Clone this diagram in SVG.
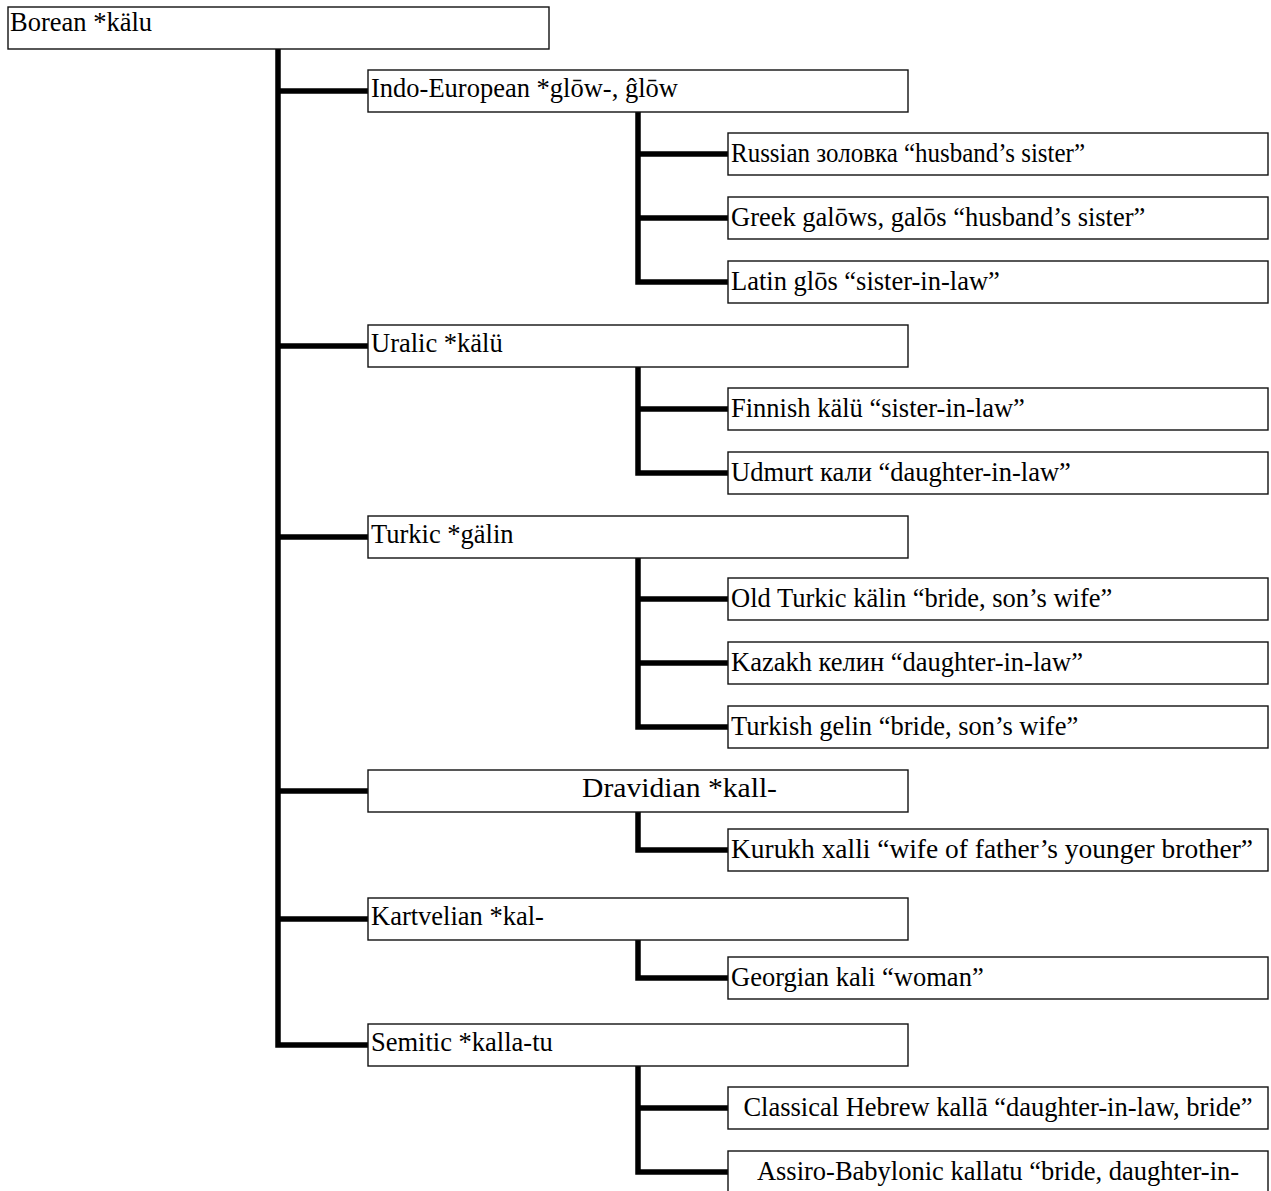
<svg xmlns="http://www.w3.org/2000/svg" width="1271" height="1191" viewBox="0 0 1271 1191">
<style>
.box{fill:#fff;stroke:#111;stroke-width:1.4}
.t{font-family:"Liberation Serif","Times New Roman",serif;font-size:26.5px;fill:#000}
.c{text-anchor:middle}
.ln{fill:none;stroke:#000;stroke-width:5.5;stroke-linejoin:miter}
</style>
<rect width="1271" height="1191" fill="#fff"/>
<g id="connectors">
<path class="ln" d="M278 49 V1045 H368 M278 91 H368 M278 346 H368 M278 537 H368 M278 791 H368 M278 919 H368"/>
<path class="ln" d="M638 112 V282 H728 M638 154 H728 M638 218 H728"/>
<path class="ln" d="M638 367 V473 H728 M638 409 H728"/>
<path class="ln" d="M638 557 V727 H728 M638 599 H728 M638 663 H728"/>
<path class="ln" d="M638 811 V850 H728"/>
<path class="ln" d="M638 939 V978 H728"/>
<path class="ln" d="M638 1066 V1172 H728 M638 1108 H728"/>
</g>
<g id="n-borean"><rect class="box" x="8" y="7" width="541" height="42"/><text class="t" x="10" y="31">Borean *kälu</text></g>
<g id="n-ie"><rect class="box" x="368" y="70" width="540" height="42"/><text class="t" x="371" y="97">Indo-European *glōw-, ĝlōw</text></g>
<g id="n-russian"><rect class="box" x="728" y="133" width="540" height="42"/><text class="t" x="731" y="162" textLength="354" lengthAdjust="spacingAndGlyphs">Russian золовка “husband’s sister”</text></g>
<g id="n-greek"><rect class="box" x="728" y="197" width="540" height="42"/><text class="t" x="731" y="226">Greek galōws, galōs “husband’s sister”</text></g>
<g id="n-latin"><rect class="box" x="728" y="261" width="540" height="42"/><text class="t" x="731" y="290">Latin glōs “sister-in-law”</text></g>
<g id="n-uralic"><rect class="box" x="368" y="325" width="540" height="42"/><text class="t" x="371" y="352">Uralic *kälü</text></g>
<g id="n-finnish"><rect class="box" x="728" y="388" width="540" height="42"/><text class="t" x="731" y="417">Finnish kälü “sister-in-law”</text></g>
<g id="n-udmurt"><rect class="box" x="728" y="452" width="540" height="42"/><text class="t" x="731" y="481">Udmurt кали “daughter-in-law”</text></g>
<g id="n-turkic"><rect class="box" x="368" y="516" width="540" height="42"/><text class="t" x="371" y="543">Turkic *gälin</text></g>
<g id="n-oldturkic"><rect class="box" x="728" y="578" width="540" height="42"/><text class="t" x="731" y="607">Old Turkic kälin “bride, son’s wife”</text></g>
<g id="n-kazakh"><rect class="box" x="728" y="642" width="540" height="42"/><text class="t" x="731" y="671">Kazakh келин “daughter-in-law”</text></g>
<g id="n-turkish"><rect class="box" x="728" y="706" width="540" height="42"/><text class="t" x="731" y="735">Turkish gelin “bride, son’s wife”</text></g>
<g id="n-dravidian"><rect class="box" x="368" y="770" width="540" height="42"/><text class="t" x="582" y="797" textLength="195" lengthAdjust="spacingAndGlyphs">Dravidian *kall-</text></g>
<g id="n-kurukh"><rect class="box" x="728" y="829" width="540" height="42"/><text class="t" x="731" y="858" textLength="522" lengthAdjust="spacingAndGlyphs">Kurukh xalli “wife of father’s younger brother”</text></g>
<g id="n-kartvelian"><rect class="box" x="368" y="898" width="540" height="42"/><text class="t" x="371" y="925">Kartvelian *kal-</text></g>
<g id="n-georgian"><rect class="box" x="728" y="957" width="540" height="42"/><text class="t" x="731" y="986">Georgian kali “woman”</text></g>
<g id="n-semitic"><rect class="box" x="368" y="1024" width="540" height="42"/><text class="t" x="371" y="1051">Semitic *kalla-tu</text></g>
<g id="n-hebrew"><rect class="box" x="728" y="1087" width="540" height="42"/><text class="t c" x="998" y="1116">Classical Hebrew kallā “daughter-in-law, bride”</text></g>
<g id="n-assiro"><rect class="box" x="728" y="1151" width="540" height="42"/><text class="t c" x="998" y="1180">Assiro-Babylonic kallatu “bride, daughter-in-</text></g>
</svg>
